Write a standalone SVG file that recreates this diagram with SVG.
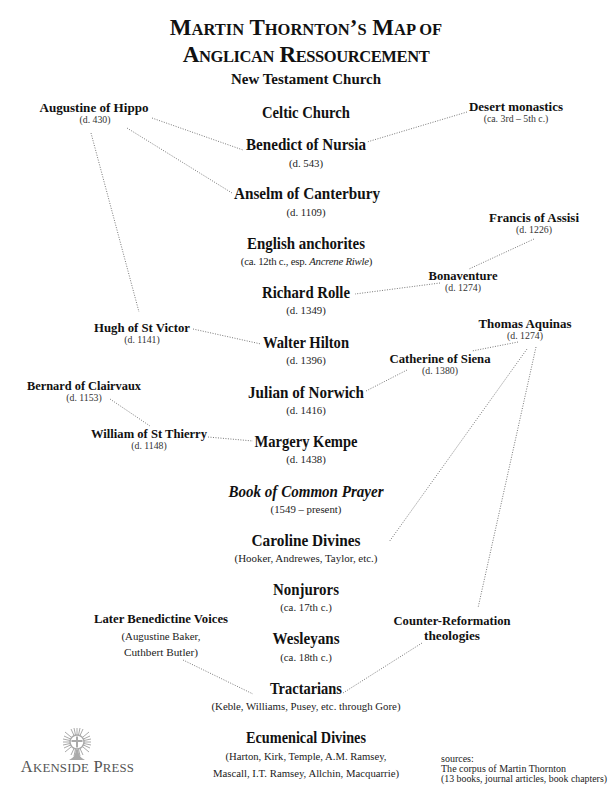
<svg xmlns="http://www.w3.org/2000/svg" width="612" height="792" viewBox="0 0 612 792">
<style>
text{font-family:"Liberation Serif","Times New Roman",serif;fill:#111;text-anchor:middle}
.t{font-size:23px;font-weight:bold}
.ts{font-size:16.500px}
.m{font-size:16px;font-weight:bold}
.s{font-size:13.500px;font-weight:bold}
.d{font-size:9.800px;fill:#333}
.md{font-size:10.800px;fill:#222}
.src{font-size:10px;text-anchor:start;fill:#222}
#connectors line{stroke:#555;stroke-width:.8;stroke-dasharray:1 1.5;fill:none}
</style>
<rect width="612" height="792" fill="#fff"/>
<g id="connectors">
<line x1="152" y1="118" x2="243" y2="150"/>
<line x1="127" y1="128" x2="232" y2="193"/>
<line x1="467" y1="112" x2="367" y2="142"/>
<line x1="91" y1="133" x2="139" y2="312"/>
<line x1="534" y1="239" x2="469" y2="269"/>
<line x1="440" y1="283" x2="355" y2="294"/>
<line x1="193" y1="329" x2="261" y2="344"/>
<line x1="518" y1="342" x2="472" y2="351"/>
<line x1="407" y1="370" x2="366" y2="391"/>
<line x1="110" y1="399" x2="150" y2="426"/>
<line x1="208" y1="437" x2="253" y2="441"/>
<line x1="527" y1="349" x2="389" y2="542"/>
<line x1="536" y1="347" x2="478" y2="608"/>
<line x1="422" y1="643" x2="343" y2="693"/>
<line x1="183" y1="660" x2="253" y2="694"/>
</g>
<g id="title">
<text class="t" x="306" y="35">M<tspan class="ts">ARTIN</tspan> T<tspan class="ts">HORNTON</tspan>’<tspan class="ts">S</tspan> M<tspan class="ts">AP OF</tspan></text>
<text class="t" x="306" y="62" style="letter-spacing:-.4px">A<tspan class="ts">NGLICAN</tspan> R<tspan class="ts">ESSOURCEMENT</tspan></text>
</g>
<g id="new-testament"><text class="s" style="font-size:14.500px" x="306" y="84" textLength="150" lengthAdjust="spacingAndGlyphs">New Testament Church</text></g>
<g id="celtic"><text class="m" x="306" y="118" textLength="88" lengthAdjust="spacingAndGlyphs">Celtic Church</text></g>
<g id="benedict"><text class="m" x="306" y="150" textLength="120" lengthAdjust="spacingAndGlyphs">Benedict of Nursia</text><text class="md" x="306" y="167">(d. 543)</text></g>
<g id="anselm"><text class="m" x="307" y="199" textLength="146" lengthAdjust="spacingAndGlyphs">Anselm of Canterbury</text><text class="md" x="306" y="216">(d. 1109)</text></g>
<g id="anchorites"><text class="m" x="306" y="249" textLength="118" lengthAdjust="spacingAndGlyphs">English anchorites</text><text class="md" x="306.500" y="265" style="letter-spacing:-.25px">(ca. 12th c., esp. <tspan font-style="italic">Ancrene Riwle</tspan>)</text></g>
<g id="rolle"><text class="m" x="306" y="298" textLength="88" lengthAdjust="spacingAndGlyphs">Richard Rolle</text><text class="md" x="306" y="314">(d. 1349)</text></g>
<g id="hilton"><text class="m" x="306" y="348" textLength="86" lengthAdjust="spacingAndGlyphs">Walter Hilton</text><text class="md" x="306" y="364">(d. 1396)</text></g>
<g id="julian"><text class="m" x="306" y="398" textLength="116" lengthAdjust="spacingAndGlyphs">Julian of Norwich</text><text class="md" x="306" y="414">(d. 1416)</text></g>
<g id="kempe"><text class="m" x="306" y="447" textLength="103" lengthAdjust="spacingAndGlyphs">Margery Kempe</text><text class="md" x="306" y="463">(d. 1438)</text></g>
<g id="bcp"><text class="m" font-style="italic" x="306" y="497" textLength="155" lengthAdjust="spacingAndGlyphs">Book of Common Prayer</text><text class="md" x="306" y="513">(1549 – present)</text></g>
<g id="caroline"><text class="m" x="306" y="546" textLength="109" lengthAdjust="spacingAndGlyphs">Caroline Divines</text><text class="md" x="306" y="562" textLength="143" lengthAdjust="spacingAndGlyphs">(Hooker, Andrewes, Taylor, etc.)</text></g>
<g id="nonjurors"><text class="m" x="306" y="595" textLength="66" lengthAdjust="spacingAndGlyphs">Nonjurors</text><text class="md" x="306" y="611">(ca. 17th c.)</text></g>
<g id="wesleyans"><text class="m" x="306" y="644" textLength="67" lengthAdjust="spacingAndGlyphs">Wesleyans</text><text class="md" x="306" y="661">(ca. 18th c.)</text></g>
<g id="tractarians"><text class="m" x="306" y="694" textLength="72" lengthAdjust="spacingAndGlyphs">Tractarians</text><text class="md" x="306" y="710" textLength="189" lengthAdjust="spacingAndGlyphs">(Keble, Williams, Pusey, etc. through Gore)</text></g>
<g id="ecumenical"><text class="m" x="306" y="743" textLength="120" lengthAdjust="spacingAndGlyphs">Ecumenical Divines</text><text class="md" x="306" y="760" textLength="161" lengthAdjust="spacingAndGlyphs">(Harton, Kirk, Temple, A.M. Ramsey,</text><text class="md" x="306" y="777" textLength="186" lengthAdjust="spacingAndGlyphs">Mascall, I.T. Ramsey, Allchin, Macquarrie)</text></g>
<g id="augustine"><text class="s" x="94" y="112" textLength="109" lengthAdjust="spacingAndGlyphs">Augustine of Hippo</text><text class="d" x="95" y="123">(d. 430)</text></g>
<g id="desert"><text class="s" x="516" y="111" textLength="94" lengthAdjust="spacingAndGlyphs">Desert monastics</text><text class="d" x="516" y="122">(ca. 3rd – 5th c.)</text></g>
<g id="francis"><text class="s" x="534" y="222" textLength="90" lengthAdjust="spacingAndGlyphs">Francis of Assisi</text><text class="d" x="534" y="233">(d. 1226)</text></g>
<g id="bonaventure"><text class="s" x="463" y="280" textLength="69" lengthAdjust="spacingAndGlyphs">Bonaventure</text><text class="d" x="463" y="291">(d. 1274)</text></g>
<g id="aquinas"><text class="s" x="525" y="328" textLength="93" lengthAdjust="spacingAndGlyphs">Thomas Aquinas</text><text class="d" x="525" y="339">(d. 1274)</text></g>
<g id="catherine"><text class="s" x="440" y="363" textLength="101" lengthAdjust="spacingAndGlyphs">Catherine of Siena</text><text class="d" x="440" y="374">(d. 1380)</text></g>
<g id="hugh"><text class="s" x="142" y="332" textLength="96" lengthAdjust="spacingAndGlyphs">Hugh of St Victor</text><text class="d" x="142" y="343">(d. 1141)</text></g>
<g id="bernard"><text class="s" x="84" y="390" textLength="114" lengthAdjust="spacingAndGlyphs">Bernard of Clairvaux</text><text class="d" x="84" y="401">(d. 1153)</text></g>
<g id="william"><text class="s" x="149" y="438" textLength="116" lengthAdjust="spacingAndGlyphs">William of St Thierry</text><text class="d" x="149" y="449">(d. 1148)</text></g>
<g id="benedictine"><text class="s" x="161" y="623" textLength="134" lengthAdjust="spacingAndGlyphs">Later Benedictine Voices</text><text class="md" x="161" y="640" textLength="79" lengthAdjust="spacingAndGlyphs">(Augustine Baker,</text><text class="md" x="161" y="656" textLength="74" lengthAdjust="spacingAndGlyphs">Cuthbert Butler)</text></g>
<g id="counter"><text class="s" x="452" y="625" textLength="117" lengthAdjust="spacingAndGlyphs">Counter-Reformation</text><text class="s" x="452" y="640" textLength="56" lengthAdjust="spacingAndGlyphs">theologies</text></g>
<g id="sources"><text class="src" x="441" y="762">sources:</text><text class="src" x="441" y="772" textLength="125" lengthAdjust="spacingAndGlyphs">The corpus of Martin Thornton</text><text class="src" x="441" y="782" textLength="166" lengthAdjust="spacingAndGlyphs">(13 books, journal articles, book chapters)</text></g>
<g id="logo">
<g stroke="#aaa" stroke-width="1" fill="none">
<path d="M77 728V756M63 742H91M65 732L89 752M89 732L65 752M71 729L83 755M83 729L71 755M64 736L90 748M90 736L64 748M74 728L80 756M80 728L74 756M63 739L91 745M91 739L63 745"/>
</g>
<path d="M69 760Q76 757 75.500 750H78.500Q78 757 85 760Z" fill="#aaa"/>
<circle cx="77" cy="742" r="7" fill="#fff" stroke="#aaa" stroke-width="1.500"/>
<path d="M77 736.500V747.500M71.500 741H82.500" stroke="#aaa" stroke-width="2"/>
<text x="77.500" y="772" font-size="16.500" style="fill:#555;letter-spacing:.2px">A<tspan font-size="12.800">KENSIDE</tspan> P<tspan font-size="12.800">RESS</tspan></text>
</g>
</svg>
